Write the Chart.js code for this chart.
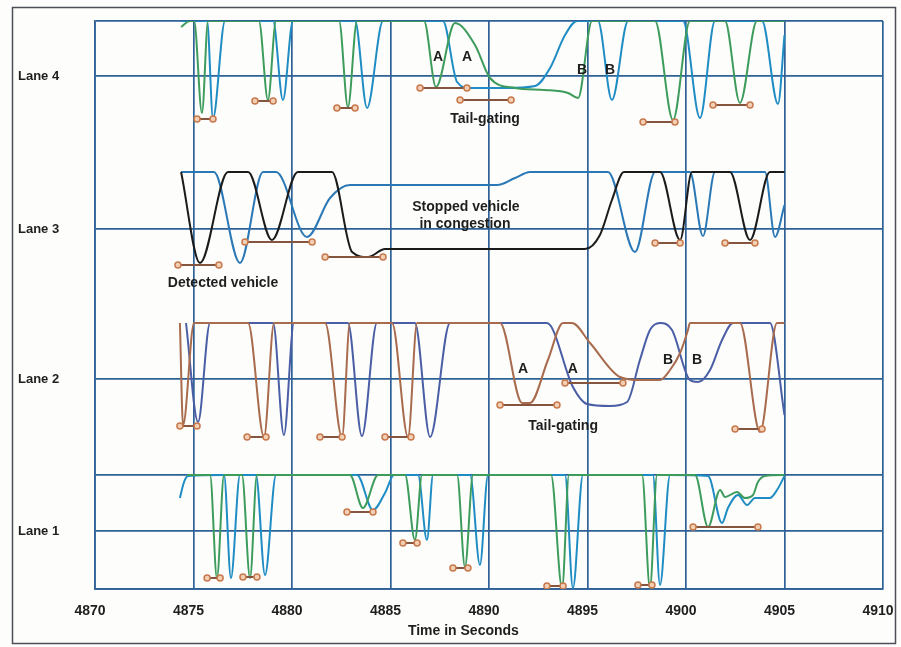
<!DOCTYPE html>
<html>
<head>
<meta charset="utf-8">
<title>Loop detector signals by lane</title>
<script src="https://cdn.jsdelivr.net/npm/chart.js@4.4.1/dist/chart.umd.min.js"></script>
<style>
  html, body { margin: 0; padding: 0; background: #fdfdfc; }
  #wrap { position: relative; width: 901px; height: 647px; }
</style>
</head>
<body>
<div id="wrap"><canvas id="laneChart"></canvas></div>
<script>
"use strict";

/* ── axes ───────────────────────────────────────────── */
const xTicks = [4870, 4875, 4880, 4885, 4890, 4895, 4900, 4905, 4910];
const yTicks = [0, 5.8, 11.4, 21.0, 36.0, 51.3, 56.8];
const yLabels = ["", "Lane 1", "", "Lane 2", "Lane 3", "Lane 4", ""];
const xTitle = "Time in Seconds";

/* ── lane 4 : two loops [time, level] ───────────────── */
const lane4Green = [
  [4874.37, 56.2], [4874.82, 56.8],
  [4875.03, 56.8], [4875.43, 47.6], [4875.74, 56.8],
  [4878.32, 56.8], [4878.78, 48.9], [4879.19, 56.8],
  [4882.39, 56.8], [4882.84, 48.2], [4883.30, 56.8],
  [4886.70, 56.8], [4887.31, 50.2], [4888.27, 56.6],
  [4889.29, 54.4], [4890.05, 51.1], [4891.32, 50.1], [4892.84, 49.9],
  [4894.01, 49.6], [4894.52, 49.1], [4895.23, 56.8],
  [4898.43, 56.8], [4899.34, 46.9], [4900.20, 56.8],
  [4901.98, 56.8], [4902.74, 48.6], [4903.60, 56.8],
  [4905.00, 56.8]
];
const lane4Blue = [
  [4874.37, 56.8],
  [4875.69, 56.8], [4875.99, 47.1], [4876.60, 56.8],
  [4879.04, 56.8], [4879.54, 48.9], [4880.05, 56.8],
  [4883.20, 56.8], [4883.81, 48.1], [4884.62, 56.8],
  [4887.66, 56.8], [4888.38, 50.7], [4889.04, 50.1], [4890.81, 50.1],
  [4892.34, 50.3], [4893.10, 52.1], [4893.86, 55.4], [4894.47, 56.8],
  [4895.53, 56.8], [4896.24, 48.9], [4897.06, 56.8],
  [4899.85, 56.8], [4900.71, 47.1], [4901.47, 56.8],
  [4903.86, 56.8], [4904.67, 48.5], [4905.00, 55.4]
];
// detected vehicles [start, end, level]
const lane4Marks = [
  [4875.18, 4875.99, 47.0], [4878.12, 4879.04, 48.8], [4882.28, 4883.20, 48.1],
  [4886.50, 4888.88, 50.1], [4888.53, 4891.12, 48.9],
  [4897.82, 4899.44, 46.7], [4901.37, 4903.25, 48.4]
];

/* ── lane 3 ─────────────────────────────────────────── */
const lane3Black = [
  [4874.37, 41.7], [4875.33, 32.6], [4876.75, 41.7],
  [4877.77, 41.7], [4878.98, 34.9], [4880.30, 41.7],
  [4882.03, 41.7], [4883.05, 33.7], [4883.86, 33.2], [4884.72, 34.0],
  [4894.87, 34.0], [4895.63, 35.4], [4896.24, 38.9], [4896.85, 41.7],
  [4898.68, 41.7], [4899.70, 34.9], [4900.30, 41.7],
  [4902.23, 41.7], [4903.25, 34.9], [4904.26, 41.7],
  [4905.00, 41.7]
];
const lane3Blue = [
  [4874.37, 41.7],
  [4876.04, 41.7], [4877.36, 32.6], [4878.53, 41.7],
  [4879.19, 41.7], [4880.76, 35.2], [4881.93, 39.1], [4882.94, 40.4],
  [4890.41, 40.4], [4891.32, 41.1], [4892.08, 41.7],
  [4896.04, 41.7], [4897.41, 33.7], [4898.43, 41.7],
  [4900.20, 41.7], [4900.86, 35.3], [4901.47, 41.7],
  [4904.01, 41.7], [4904.52, 35.2], [4905.00, 38.4]
];
const lane3Marks = [
  [4874.21, 4876.29, 32.4], [4877.61, 4881.02, 34.7], [4881.68, 4884.62, 33.2],
  [4898.43, 4899.70, 34.6], [4901.98, 4903.50, 34.6]
];

/* ── lane 2 ─────────────────────────────────────────── */
const lane2Brown = [
  [4874.31, 26.6], [4874.47, 16.4], [4875.03, 26.6],
  [4877.77, 26.6], [4878.58, 15.2], [4879.09, 26.6],
  [4881.68, 26.6], [4882.54, 15.2], [4882.94, 26.6],
  [4885.08, 26.6], [4885.89, 15.2], [4886.35, 26.6],
  [4890.56, 26.6], [4891.68, 18.6], [4892.08, 18.6], [4892.99, 22.9],
  [4893.76, 26.6], [4894.21, 26.6], [4895.13, 24.6], [4896.65, 21.2],
  [4897.66, 20.9], [4898.68, 20.9], [4899.19, 21.9], [4899.70, 23.6],
  [4900.10, 25.9], [4900.20, 26.6],
  [4902.74, 26.6], [4903.76, 15.7], [4904.62, 26.6], [4905.00, 26.6]
];
const lane2Blue = [
  [4874.62, 26.6], [4875.23, 16.7], [4875.84, 26.6],
  [4879.04, 26.6], [4879.59, 15.4], [4880.10, 26.6],
  [4882.84, 26.6], [4883.55, 15.3], [4884.31, 26.6],
  [4886.24, 26.6], [4887.01, 15.2], [4888.02, 26.6],
  [4892.94, 26.6], [4894.26, 20.2], [4894.97, 18.5], [4896.14, 18.3],
  [4897.01, 18.7], [4897.66, 22.9], [4898.17, 25.9], [4898.68, 26.6],
  [4899.29, 25.9], [4900.20, 20.9], [4900.61, 20.7], [4901.22, 21.9],
  [4901.83, 24.9], [4902.39, 26.6],
  [4904.26, 26.6], [4905.00, 17.4]
];
const lane2Marks = [
  [4874.31, 4875.18, 16.3], [4877.72, 4878.68, 15.2], [4881.42, 4882.54, 15.2],
  [4884.72, 4886.04, 15.2], [4890.56, 4893.45, 18.4], [4893.86, 4896.80, 20.6],
  [4902.49, 4903.86, 16.0]
];

/* ── lane 1 ─────────────────────────────────────────── */
const lane1Green = [
  [4874.67, 11.4],
  [4875.84, 11.4], [4876.19, 1.1], [4876.55, 11.4],
  [4877.46, 11.4], [4877.87, 1.1], [4878.22, 11.4],
  [4882.94, 11.4], [4883.60, 8.1], [4884.37, 11.4],
  [4885.74, 11.4], [4886.24, 4.9], [4886.60, 11.4],
  [4888.38, 11.4], [4888.78, 2.2], [4889.19, 11.4],
  [4893.15, 11.4], [4893.71, 0.1], [4894.06, 11.4],
  [4897.77, 11.4], [4898.17, 0.1], [4898.53, 11.4],
  [4900.46, 11.4], [4901.12, 6.2], [4901.73, 9.9], [4901.98, 9.2],
  [4902.59, 9.7], [4902.99, 9.1], [4903.40, 9.4], [4903.65, 10.7],
  [4904.01, 11.3], [4905.00, 11.4]
];
const lane1Blue = [
  [4874.31, 9.1], [4874.52, 10.7], [4874.72, 11.3],
  [4876.55, 11.4], [4876.90, 1.1], [4877.36, 11.4],
  [4878.17, 11.4], [4878.63, 1.4], [4879.19, 11.4],
  [4883.30, 11.4], [4884.11, 7.9], [4884.72, 9.6], [4885.18, 11.4],
  [4886.40, 11.4], [4886.85, 4.9], [4887.16, 11.4],
  [4889.04, 11.4], [4889.54, 2.4], [4889.95, 11.4],
  [4893.86, 11.4], [4894.26, 0.1], [4894.77, 11.4],
  [4898.32, 11.4], [4898.68, 0.4], [4899.19, 11.4],
  [4901.12, 11.3], [4901.83, 6.6], [4902.13, 8.1], [4902.64, 9.4],
  [4903.10, 8.4], [4903.50, 9.1], [4904.26, 9.1], [4904.62, 9.9],
  [4905.00, 11.3]
];
const lane1Marks = [
  [4875.69, 4876.35, 1.1], [4877.51, 4878.22, 1.2], [4882.79, 4884.11, 7.7],
  [4885.63, 4886.35, 4.6], [4888.17, 4888.93, 2.1], [4892.94, 4893.76, 0.3],
  [4897.56, 4898.27, 0.4], [4900.36, 4903.65, 6.2]
];

/* ── notes written on the plot ──────────────────────── */
const noteText = ["A", "A", "B", "B", "Tail-gating",
                  "Detected vehicle", "Stopped vehicle", "in congestion",
                  "A", "A", "B", "B", "Tail-gating"];
const noteT = [4887.41, 4888.88, 4894.72, 4896.14, 4889.80,
               4876.50, 4888.83, 4888.78,
               4891.73, 4894.26, 4899.09, 4900.56, 4893.76];
const noteV = [53.2, 53.2, 51.9, 51.9, 47.0,
               30.6, 38.2, 36.5,
               22.0, 22.0, 22.9, 22.9, 16.3];
const titleAt = 4888.7;

const C = {
  green: "#3d9c5c",
  teal: "#1f8dc4",
  black: "#1b1b1b",
  blue3: "#2a79b6",
  brown: "#a86b4d",
  violet: "#4a5ea6",
  mark: "#c8794c",
  markLine: "#85553f",
  grid: "#2e6196",
  text: "#1e1e1e",
  frame: "#4d4f58"
};
const FONT = "'Liberation Sans', Arial, sans-serif";

function pts(arr) {
  return arr.map(p => ({ x: p[0], y: p[1] }));
}

function segs(arr) {
  const out = [];
  arr.forEach(s => {
    out.push({ x: s[0], y: s[2] }, { x: s[1], y: s[2] }, { x: s[1], y: null });
  });
  return out;
}

function signal(label, arr, color) {
  return {
    label,
    data: pts(arr),
    borderColor: color,
    borderWidth: 2,
    pointRadius: 0,
    cubicInterpolationMode: "monotone",
    fill: false,
    order: 2
  };
}

function marks(label, arr) {
  return {
    label,
    data: segs(arr),
    borderColor: C.markLine,
    borderWidth: 2,
    pointRadius: 3,
    pointBorderWidth: 1.5,
    pointBackgroundColor: "#f1d0b6",
    pointBorderColor: C.mark,
    spanGaps: false,
    order: 0
  };
}

const paper = {
  id: "paper",
  beforeDraw(chart) {
    const ctx = chart.ctx;
    ctx.save();
    ctx.fillStyle = "#fdfdfc";
    ctx.fillRect(0, 0, chart.width, chart.height);
    ctx.strokeStyle = C.frame;
    ctx.lineWidth = 1.5;
    ctx.strokeRect(12.5, 7.5, 883, 636);
    ctx.restore();
  },
  afterDatasetsDraw(chart) {
    const { ctx, scales: { x, y } } = chart;
    ctx.save();
    ctx.fillStyle = C.text;
    ctx.font = "bold 14px " + FONT;
    ctx.textAlign = "center";
    ctx.textBaseline = "middle";
    noteText.forEach((t, i) => {
      ctx.fillText(t, x.getPixelForValue(noteT[i]), y.getPixelForValue(noteV[i]));
    });
    ctx.fillText(xTitle, x.getPixelForValue(titleAt), chart.chartArea.bottom + 42);
    ctx.restore();
  }
};

new Chart(document.getElementById("laneChart"), {
  type: "line",
  data: {
    datasets: [
      marks("Lane 4 detections", lane4Marks),
      marks("Lane 3 detections", lane3Marks),
      marks("Lane 2 detections", lane2Marks),
      marks("Lane 1 detections", lane1Marks),
      signal("Lane 4 loop A", lane4Green, C.green),
      signal("Lane 4 loop B", lane4Blue, C.teal),
      signal("Lane 3 loop A", lane3Black, C.black),
      signal("Lane 3 loop B", lane3Blue, C.blue3),
      signal("Lane 2 loop A", lane2Brown, C.brown),
      signal("Lane 2 loop B", lane2Blue, C.violet),
      signal("Lane 1 loop A", lane1Green, C.green),
      signal("Lane 1 loop B", lane1Blue, C.teal)
    ]
  },
  options: {
    responsive: true,
    maintainAspectRatio: false,
    animation: false,
    layout: { padding: { top: 21, left: 18, right: 18, bottom: 6 } },
    plugins: { legend: { display: false }, tooltip: { enabled: false } },
    scales: {
      x: {
        type: "linear",
        min: 4870,
        max: 4910,
        afterBuildTicks: s => { s.ticks = xTicks.map(v => ({ value: v })); },
        afterFit: s => { s.height = 52; s.paddingLeft = 0; s.paddingRight = 0; },
        grid: { color: C.grid, lineWidth: 1.7, drawTicks: false },
        border: { color: C.grid, width: 1.7 },
        ticks: {
          color: C.text,
          padding: 14,
          labelOffset: -5,
          maxRotation: 0,
          autoSkip: false,
          callback: v => String(v),
          font: { family: FONT, size: 14, weight: "bold" }
        }
      },
      y: {
        type: "linear",
        min: 0,
        max: 56.8,
        afterBuildTicks: s => { s.ticks = yTicks.map(v => ({ value: v })); },
        afterFit: s => { s.width = 77; },
        grid: { color: C.grid, lineWidth: 1.7, drawTicks: false },
        border: { color: C.grid, width: 1.7 },
        ticks: {
          color: C.text,
          crossAlign: "far",
          autoSkip: false,
          callback: (v, i) => yLabels[i],
          font: { family: FONT, size: 13, weight: "bold" }
        }
      }
    }
  },
  plugins: [paper]
});
</script>
</body>
</html>
